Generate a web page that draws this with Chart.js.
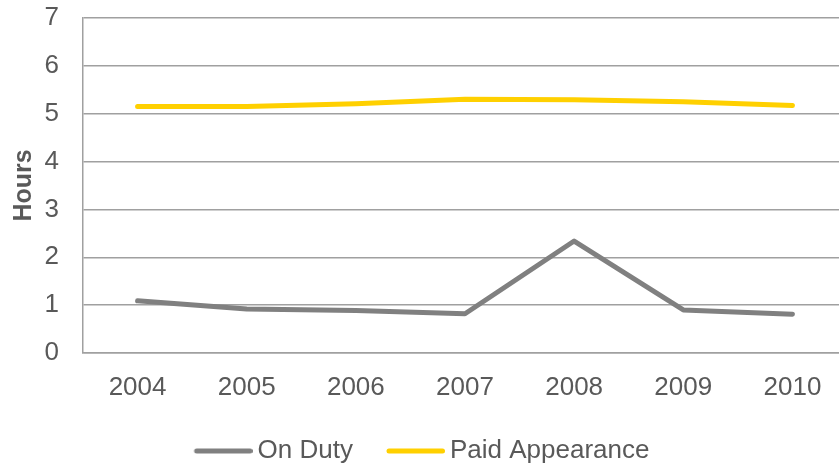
<!DOCTYPE html>
<html>
<head>
<meta charset="utf-8">
<script src="https://cdn.jsdelivr.net/npm/chart.js@4.4.0/dist/chart.umd.min.js"></script>
<style>
  html, body { margin:0; padding:0; background:#fff; overflow:hidden; }
  #wrap { width:847px; height:463px; }
</style>
</head>
<body>
<div id="wrap"><canvas id="chart" width="847" height="463"></canvas></div>
<script>
// =======================
// Data
// =======================
const years = ["2004", "2005", "2006", "2007", "2008", "2009", "2010"];
const onDuty = [1.09, 0.92, 0.89, 0.82, 2.34, 0.90, 0.81];
const paidAppearance = [5.15, 5.15, 5.21, 5.30, 5.29, 5.25, 5.17];
const yTicks = [0, 1, 2, 3, 4, 5, 6, 7];

const textColor = "#595959";
const gridColor = "#a0a0a0";
const fontFamily = "'Liberation Sans', Arial, sans-serif";

// legend swatch: 55px line, right-aligned in a 63px image so the text sits close to it
function legendLine(color) {
  const c = document.createElement("canvas");
  c.width = 63; c.height = 8;
  const g = c.getContext("2d");
  g.strokeStyle = color;
  g.lineWidth = 5;
  g.lineCap = "round";
  g.beginPath();
  g.moveTo(7, 4);
  g.lineTo(60.5, 4);
  g.stroke();
  return c;
}

const series = [
  { label: "On Duty", data: onDuty, color: "#808080" },
  { label: "Paid Appearance", data: paidAppearance, color: "#ffd000" }
];

const ctx = document.getElementById("chart").getContext("2d");
new Chart(ctx, {
  type: "line",
  data: {
    labels: years,
    datasets: series.map(s => ({
      label: s.label,
      data: s.data,
      borderColor: s.color,
      backgroundColor: s.color,
      borderWidth: 5,
      borderCapStyle: "round",
      borderJoinStyle: "round",
      pointRadius: 0,
      tension: 0,
      pointStyle: legendLine(s.color)
    }))
  },
  options: {
    responsive: false,
    animation: false,
    layout: { padding: { top: 18, bottom: -11, left: 0, right: 0 } },
    plugins: {
      tooltip: { enabled: false },
      legend: {
        position: "bottom",
        labels: {
          usePointStyle: true,
          pointStyleWidth: 47,
          boxHeight: 8,
          padding: 37,
          color: textColor,
          font: { family: fontFamily, size: 26 }
        }
      }
    },
    scales: {
      x: {
        offset: true,
        grid: { display: false },
        border: { display: true, color: gridColor, width: 1.5 },
        ticks: { color: textColor, font: { family: fontFamily, size: 26 }, padding: 11, maxRotation: 0 },
        afterFit: s => { s.height = 48; }
      },
      y: {
        min: 0,
        max: 7,
        afterBuildTicks: s => { s.ticks = yTicks.map(v => ({ value: v })); },
        // invisible tick marks give the gap between labels and axis
        grid: { color: gridColor, lineWidth: 1.5, drawTicks: true, tickLength: 24, tickColor: "rgba(0,0,0,0)" },
        border: { display: true, color: gridColor, width: 1.5 },
        ticks: { color: textColor, font: { family: fontFamily, size: 26 }, padding: 0 },
        title: {
          display: true,
          text: "Hours",
          color: textColor,
          font: { family: fontFamily, size: 25, weight: "bold" },
          padding: { top: 9, bottom: 0 }
        },
        afterFit: s => { s.width = 83; }
      }
    }
  }
});
</script>
</body>
</html>
